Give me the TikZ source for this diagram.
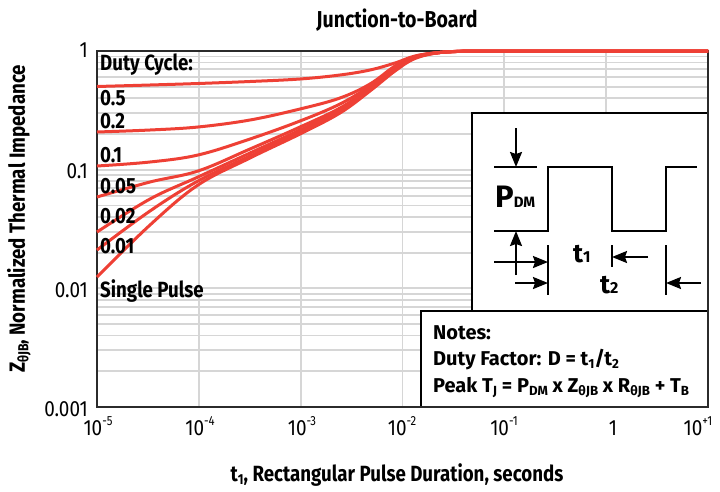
\documentclass[tikz,border=0pt]{standalone}
\usepackage{fontspec}
\setmainfont{Fira Sans}
\newfontfamily\condfont{Fira Sans}[FakeStretch=0.85]
\newfontfamily\tickfont{Fira Sans}[FakeStretch=0.86]
\usetikzlibrary{arrows.meta}
\definecolor{curvered}{HTML}{EE4035}
\definecolor{gridgray}{HTML}{D6D6D6}
\definecolor{framegray}{HTML}{2B2B2B}
\newcommand{\mysub}[1]{\raisebox{-0.3ex}{\scalebox{0.66}{#1}}}
\newcommand{\mysup}[1]{\raisebox{0.8ex}{\scalebox{0.6}{#1}}}
\begin{document}
\begin{tikzpicture}[x=1pt,y=-1pt,
  curve/.style={draw=curvered, line width=3pt, line join=round},
  gridline/.style={draw=gridgray, line width=1.8pt},
  lbl/.style={font=\condfont\bfseries\fontsize{22}{24}\selectfont, anchor=base west, inner sep=0pt},
  ticklbl/.style={font=\tickfont\fontsize{22}{24}\selectfont, inner sep=0pt},
  axlbl/.style={font=\condfont\bfseries\fontsize{22}{24}\selectfont, inner sep=0pt, anchor=base},
  notelbl/.style={font=\bfseries\fontsize{20}{22}\selectfont, anchor=base west, inner sep=0pt},
  box/.style={draw=black, fill=white, line width=2.5pt},
  wave/.style={draw=black, line width=2pt},
  arr/.style={draw=black, line width=2pt, -{Stealth[length=15pt,width=12pt,inset=2pt]}}]
\useasboundingbox (0,0) rectangle (720,491);
% grid
\foreach \d in {0,1,2}{
  \foreach \k in {2,...,9}{
    \draw[gridline] (97,{51+118.67*(\d+1-ln(\k)/ln(10))}) -- (708,{51+118.67*(\d+1-ln(\k)/ln(10))});
  }
  \draw[gridline] (97,{51+118.67*(\d+1)}) -- (708,{51+118.67*(\d+1)});
}
\foreach \i in {1,...,5}{
  \draw[gridline] ({97+101.83*\i},51) -- ({97+101.83*\i},407);
}
% boxes
\draw[box] (472,113) rectangle (708,311);
\draw[box] (421,311) rectangle (708,407);
% frame
\draw[draw=framegray, line width=2.5pt] (97,51) rectangle (708,407);
% curves
\draw[curve] plot[smooth, tension=0.6] coordinates {(97,277) (150,225) (198,185) (250,158) (300,134) (340,113) (370,91) (395,71) (415,58.5) (440,52.5) (470,51)} -- (708,51);
\draw[curve] plot[smooth, tension=0.6] coordinates {(97,250) (150,211) (198,181) (250,156) (300,132) (340,112) (370,90) (395,70) (415,58) (440,52.5) (470,51)} -- (708,51);
\draw[curve] plot[smooth, tension=0.6] coordinates {(97,232) (150,199) (198,177) (250,153) (300,130) (340,110) (370,89) (395,69) (415,57.5) (440,52.5) (470,51)} -- (708,51);
\draw[curve] plot[smooth, tension=0.6] coordinates {(97,197) (150,182) (198,171) (250,149) (300,127) (340,108) (370,88) (395,68) (415,57) (440,52.5) (470,51)} -- (708,51);
\draw[curve] plot[smooth, tension=0.6] coordinates {(97,166) (150,162) (198,155) (250,139) (300,121) (340,104) (370,86) (395,67) (415,56.5) (440,52.5) (470,51)} -- (708,51);
\draw[curve] plot[smooth, tension=0.6] coordinates {(97,132) (150,130) (198,127) (250,120) (300,109) (340,98) (370,84) (395,66) (415,56.5) (440,52.5) (470,51)} -- (708,51);
\draw[curve] plot[smooth, tension=0.6] coordinates {(97,86.5) (150,85) (198,83.5) (250,81.5) (300,79) (340,75) (370,70) (395,63) (415,56) (440,52.5) (470,51)} -- (708,51);
% curve labels
\node[lbl] (dc) at (100,70) {Duty Cycle:};
\node[lbl] (d5) at (100,105) {0.5};
\node[lbl] (d2) at (100,128) {0.2};
\node[lbl] (d1) at (100,162) {0.1};
\node[lbl] (d05) at (100,193) {0.05};
\node[lbl] (d02) at (100,223) {0.02};
\node[lbl] (d01) at (100,253) {0.01};
\node[lbl] (sp) at (100,297) {Single Pulse};
% y ticks
\node[ticklbl, anchor=east] (y0) at (88,50) {1};
\node[ticklbl, anchor=east] (y1) at (88,171) {0.1};
\node[ticklbl, anchor=east] (y2) at (88,290) {0.01};
\node[ticklbl, anchor=east] (y3) at (88,409) {0.001};
% x ticks
\node[ticklbl, anchor=base] (x0) at (98,435) {10\mysup{-5}};
\node[ticklbl, anchor=base] (x1) at (200,435) {10\mysup{-4}};
\node[ticklbl, anchor=base] (x2) at (302,435) {10\mysup{-3}};
\node[ticklbl, anchor=base] (x3) at (402,435) {10\mysup{-2}};
\node[ticklbl, anchor=base] (x4) at (504,435) {10\mysup{-1}};
\node[ticklbl, anchor=base] (x5) at (613,435) {1};
\node[ticklbl, anchor=base] (x6) at (698,435) {10\mysup{+1}};
% titles
\node[axlbl, font=\condfont\bfseries\fontsize{23}{25}\selectfont] (title) at (397,27) {Junction-to-Board};
\node[axlbl] (xlab) at (397,481) {t\mysub{1}, Rectangular Pulse Duration, seconds};
\node[axlbl, rotate=90, anchor=center] (ylab) at (19,219) {Z\mysub{θJB}, Normalized Thermal Impedance};
% notes
\node[notelbl] (n1) at (433,339) {Notes:};
\node[notelbl] (n2) at (433,365) {Duty Factor: D = t\mysub{1}/t\mysub{2}};
\node[notelbl] (n3) at (433,392) {Peak T\mysub{J} = P\mysub{DM} x Z\mysub{θJB} x R\mysub{θJB} + T\mysub{B}};
% inset waveform
\coordinate (s1) at (494,167);
\coordinate (s2) at (537,167);
\draw[wave] (s1) -- (s2);
\coordinate (w0) at (494,231);
\coordinate (w1) at (548,231);
\coordinate (w2) at (548,167);
\coordinate (w3) at (612,167);
\coordinate (w4) at (612,231);
\coordinate (w5) at (666,231);
\coordinate (w6) at (666,167);
\coordinate (w7) at (697,167);
\draw[wave] (w0) -- (w1) -- (w2) -- (w3) -- (w4) -- (w5) -- (w6) -- (w7);
\coordinate (a1s) at (516,128);
\coordinate (a1e) at (516,167);
\draw[arr] (a1s) -- (a1e);
\coordinate (a2s) at (516,275);
\coordinate (a2e) at (516,231);
\draw[arr] (a2s) -- (a2e);
\coordinate (k1a) at (548,245);
\coordinate (k1b) at (548,295);
\draw[wave] (k1a) -- (k1b);
\coordinate (k2a) at (612,245);
\coordinate (k2b) at (612,267);
\draw[wave] (k2a) -- (k2b);
\coordinate (k3a) at (666,245);
\coordinate (k3b) at (666,295);
\draw[wave] (k3a) -- (k3b);
\coordinate (r1s) at (494,262);
\coordinate (r1e) at (548,262);
\draw[arr] (r1s) -- (r1e);
\coordinate (r2s) at (515,283);
\coordinate (r2e) at (548,283);
\draw[arr] (r2s) -- (r2e);
\coordinate (l1s) at (648,257);
\coordinate (l1e) at (612,257);
\draw[arr] (l1s) -- (l1e);
\coordinate (l2s) at (701,283);
\coordinate (l2e) at (666,283);
\draw[arr] (l2s) -- (l2e);
\node[anchor=base west, inner sep=0pt, font=\bfseries\fontsize{31}{31}\selectfont] (pdm) at (495,207) {P{\fontsize{15}{15}\selectfont DM}};
\node[anchor=base west, inner sep=0pt, font=\bfseries\fontsize{26}{26}\selectfont] (t1) at (573,262) {t{\fontsize{16}{16}\selectfont 1}};
\node[anchor=base west, inner sep=0pt, font=\bfseries\fontsize{26}{26}\selectfont] (t2) at (600,293) {t{\fontsize{16}{16}\selectfont 2}};
\end{tikzpicture}
\end{document}
